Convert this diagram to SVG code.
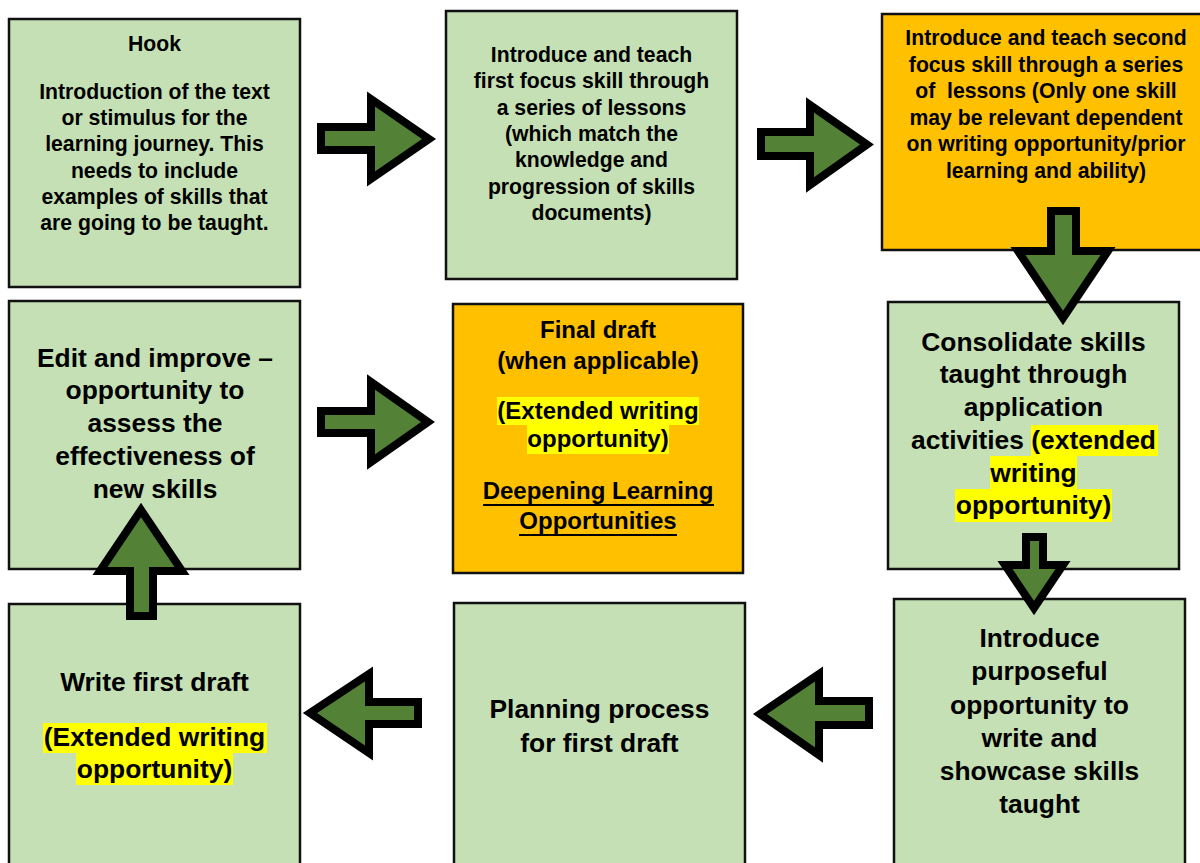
<svg xmlns="http://www.w3.org/2000/svg" width="1200" height="863" viewBox="0 0 1200 863">
  <style>
    .box { stroke: #111; stroke-width: 2.5; }
    .green { fill: #C5E0B4; }
    .amber { fill: #FFC000; }
    .hl { fill: #FFFF00; }
    .t { font-family: "Liberation Sans", Arial, sans-serif; font-weight: bold; fill: #000; text-anchor: middle; }
    .s21 { font-size: 21.2px; }
    .s24 { font-size: 24px; }
    .s26 { font-size: 26.4px; }
    .arrow { fill: #538135; stroke: #000; stroke-width: 8; stroke-linejoin: miter; stroke-miterlimit: 6; }
    .ul { stroke: #000; stroke-width: 2; }
  </style>
  <rect width="1200" height="863" fill="#fff"/>

  <g id="nodes">
    <g id="hook">
      <rect class="box green" x="9" y="19" width="291" height="268"/>
      <text class="t s21" x="154.5" y="51">Hook</text>
      <text class="t s21"><tspan x="154.5" y="99">Introduction of the text</tspan><tspan x="154.5" y="125.2">or stimulus for the</tspan><tspan x="154.5" y="151.4">learning journey. This</tspan><tspan x="154.5" y="177.6">needs to include</tspan><tspan x="154.5" y="203.8">examples of skills that</tspan><tspan x="154.5" y="230">are going to be taught.</tspan></text>
    </g>

    <g id="first-skill">
      <rect class="box green" x="446" y="11" width="291" height="268"/>
      <text class="t s21"><tspan x="591.5" y="62">Introduce and teach</tspan><tspan x="591.5" y="88.3">first focus skill through</tspan><tspan x="591.5" y="114.6">a series of lessons</tspan><tspan x="591.5" y="140.9">(which match the</tspan><tspan x="591.5" y="167.2">knowledge and</tspan><tspan x="591.5" y="193.5">progression of skills</tspan><tspan x="591.5" y="219.8">documents)</tspan></text>
    </g>

    <g id="second-skill">
      <rect class="box amber" x="882" y="14" width="330" height="236"/>
      <text class="t s21" xml:space="preserve"><tspan x="1046" y="45">Introduce and teach second</tspan><tspan x="1046" y="71.6">focus skill through a series</tspan><tspan x="1046" y="98.2">of  lessons (Only one skill</tspan><tspan x="1046" y="124.8">may be relevant dependent</tspan><tspan x="1046" y="151.4">on writing opportunity/prior</tspan><tspan x="1046" y="178">learning and ability)</tspan></text>
    </g>

    <g id="edit-improve">
      <rect class="box green" x="9" y="301" width="291" height="268"/>
      <text class="t s26"><tspan x="155" y="366.5">Edit and improve –</tspan><tspan x="155" y="399.4">opportunity to</tspan><tspan x="155" y="432.3">assess the</tspan><tspan x="155" y="465.2">effectiveness of</tspan><tspan x="155" y="498.1">new skills</tspan></text>
    </g>

    <g id="final-draft">
      <rect class="box amber" x="453" y="304" width="290" height="269"/>
      <rect class="hl" x="497" y="397" width="202" height="28"/>
      <rect class="hl" x="527" y="425" width="142" height="29"/>
      <text class="t s24"><tspan x="598" y="338">Final draft</tspan><tspan x="598" y="369">(when applicable)</tspan><tspan x="598" y="419">(Extended writing</tspan><tspan x="598" y="446.5">opportunity)</tspan><tspan x="598" y="499">Deepening Learning</tspan><tspan x="598" y="529">Opportunities</tspan></text>
      <line class="ul" x1="483" y1="505" x2="714" y2="505"/>
      <line class="ul" x1="519" y1="535" x2="677" y2="535"/>
    </g>

    <g id="consolidate">
      <rect class="box green" x="888" y="302" width="291" height="267"/>
      <rect class="hl" x="1031" y="425" width="127" height="31"/>
      <rect class="hl" x="990" y="456" width="87" height="33"/>
      <rect class="hl" x="955" y="489" width="157" height="33"/>
      <text class="t s26"><tspan x="1033.5" y="350.7">Consolidate skills</tspan><tspan x="1033.5" y="383.4">taught through</tspan><tspan x="1033.5" y="416.1">application</tspan><tspan x="1033.5" y="448.8">activities (extended</tspan><tspan x="1033.5" y="481.5">writing</tspan><tspan x="1033.5" y="514.2">opportunity)</tspan></text>
    </g>

    <g id="first-draft">
      <rect class="box green" x="9" y="604" width="291" height="280"/>
      <rect class="hl" x="43" y="723" width="224" height="30"/>
      <rect class="hl" x="76" y="753" width="157" height="32"/>
      <text class="t s26"><tspan x="154.5" y="690.7">Write first draft</tspan><tspan x="154.5" y="745.7">(Extended writing</tspan><tspan x="154.5" y="778.3">opportunity)</tspan></text>
    </g>

    <g id="planning">
      <rect class="box green" x="454" y="603" width="291" height="281"/>
      <text class="t s26"><tspan x="599.5" y="718.3">Planning process</tspan><tspan x="599.5" y="751.7">for first draft</tspan></text>
    </g>

    <g id="purposeful">
      <rect class="box green" x="894" y="599" width="291" height="285"/>
      <text class="t s26"><tspan x="1039.5" y="647">Introduce</tspan><tspan x="1039.5" y="680">purposeful</tspan><tspan x="1039.5" y="713.5">opportunity to</tspan><tspan x="1039.5" y="746.5">write and</tspan><tspan x="1039.5" y="779.7">showcase skills</tspan><tspan x="1039.5" y="812.7">taught</tspan></text>
    </g>
  </g>

  <g id="connectors">
    <!-- hook -> first skill -->
    <path class="arrow" d="M321,127 H371 V99 L429,139 L371,179 V150 H321 Z"/>
    <!-- first skill -> second skill -->
    <path class="arrow" d="M761,132 H810 V105 L867,144.5 L810,185 V156 H761 Z"/>
    <!-- second skill -> consolidate -->
    <path class="arrow" d="M1051,211 V251 H1018 L1063,318 L1108,251 H1076 V211 Z"/>
    <!-- consolidate -> purposeful -->
    <path class="arrow" d="M1026,537 V565 H1005 L1034,608 L1063,565 H1043 V537 Z"/>
    <!-- purposeful -> planning -->
    <path class="arrow" d="M869,701 H819 V674 L760,714 L819,755 V725 H869 Z"/>
    <!-- planning -> first draft -->
    <path class="arrow" d="M418,702 H369 V674 L310,713 L369,753 V724 H418 Z"/>
    <!-- first draft -> edit -->
    <path class="arrow" d="M130,616 V571 H100 L141,510 L182,571 H153 V616 Z"/>
    <!-- edit -> final draft -->
    <path class="arrow" d="M321,411 H371 V382 L428,422 L371,462 V433 H321 Z"/>
  </g>
</svg>
